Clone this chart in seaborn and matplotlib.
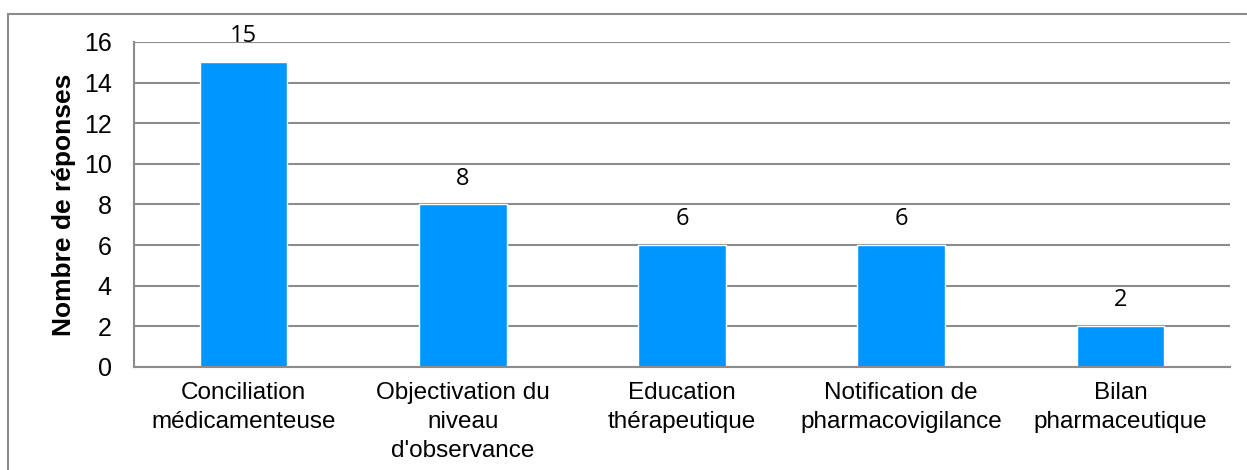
import matplotlib
matplotlib.use("Agg")
import matplotlib.pyplot as plt
import seaborn as sns
import pandas as pd
from matplotlib.patches import Rectangle

# data
categories = ["Conciliation\nmédicamenteuse", "Objectivation du\nniveau\nd'observance",
              "Education\nthérapeutique", "Notification de\npharmacovigilance",
              "Bilan\npharmaceutique"]
responses = [15, 8, 6, 6, 2]
y_ticks = [0, 2, 4, 6, 8, 10, 12, 14, 16]

df = pd.DataFrame({"cat": categories, "n": responses})

sns.set_style("white")
plt.rcParams["font.family"] = ["Liberation Sans", "DejaVu Sans"]
plt.rcParams["text.color"] = "black"
plt.rcParams["xtick.color"] = "black"
plt.rcParams["ytick.color"] = "black"
plt.rcParams["axes.labelcolor"] = "black"

fig = plt.figure(figsize=(12.47, 4.70), dpi=100)
ax = fig.add_axes([134/1247, 1 - 367/470, (1230 - 134)/1247, (367 - 42)/470])

sns.barplot(data=df, x="cat", y="n", color="#0096FF", saturation=1, width=0.4, ax=ax)

ax.set_ylim(0, 16)
ax.set_yticks(y_ticks)
ax.yaxis.grid(True, color="#8c8c8c", linewidth=1.5)
ax.set_axisbelow(True)
ax.set_xlabel("")
ax.set_ylabel("Nombre de réponses", fontsize=19, fontweight="bold", labelpad=6)
ax.tick_params(axis="y", length=0, pad=16, labelsize=18)
ax.tick_params(axis="x", length=0, pad=11, labelsize=17.5)
for lab in ax.get_xticklabels():
    lab.set_linespacing(1.4)

for s in ["top", "right"]:
    ax.spines[s].set_visible(False)
for s in ["left", "bottom"]:
    ax.spines[s].set_color("#8c8c8c")
    ax.spines[s].set_linewidth(1.5)

ax.bar_label(ax.containers[0], padding=10, fontsize=17, family="Open Sans")

# border around the chart area
fig.patches.append(Rectangle((8/1247, -0.1), 1.2, 1 - 14/470 + 0.1, transform=fig.transFigure,
                             fill=False, edgecolor="#8c8c8c", linewidth=1.5))

fig.savefig("out.png", dpi=100)
